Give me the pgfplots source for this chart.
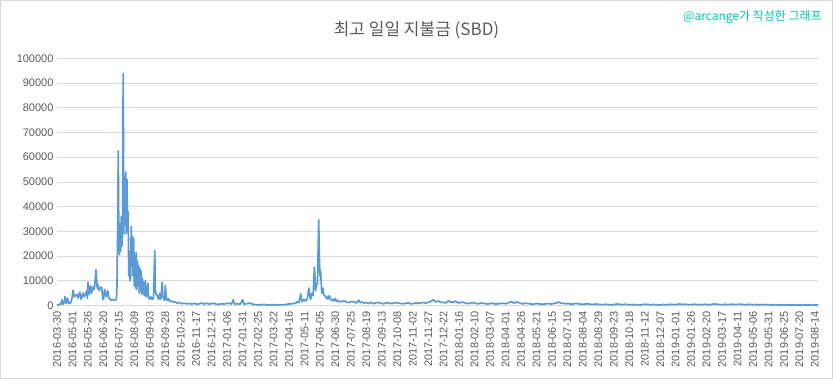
\documentclass[border=0pt]{standalone}
\usepackage{pgfplots}
\pgfplotsset{compat=1.18}
\usepackage{fontspec}
\setmainfont{Liberation Sans}
\newfontfamily\kr{Noto Sans CJK KR}
\definecolor{serie}{RGB}{91,155,213}
\definecolor{txt}{RGB}{89,89,89}
\definecolor{gridc}{RGB}{217,217,217}
\definecolor{wm}{RGB}{0,200,170}
\pgfplotstableread{
idx val
0 300
2 200
4 500
6 400
8 2300
10 500
12 1500
13 3600
15 800
17 2900
19 800
21 1200
22 1000
24 2500
25 4500
26 6100
28 3500
30 4000
32 4500
34 3000
36 4800
37 5400
39 2500
41 4000
42 5000
44 3500
46 4500
48 6000
49 3000
50 9400
52 4500
54 8000
56 5000
58 7500
60 6500
61 8000
63 14500
65 7000
66 8500
68 6000
70 7000
72 7500
74 3000
75 2300
77 6500
79 4000
80 3500
82 6000
84 3000
86 2500
88 2000
90 2500
92 2300
94 2000
96 2500
97 8000
98 30000
99 62500
100 25000
101 20500
102 33000
103 22000
104 36000
105 24000
106 35000
107 93800
108 29000
109 52000
110 33000
111 54000
112 29000
113 51000
114 32000
115 38000
116 12000
117 22000
118 10000
119 11000
120 32000
121 16000
122 28000
123 12000
124 27000
125 8000
126 20000
127 7000
128 21500
129 6500
130 18000
131 8000
132 16000
133 5000
134 15000
135 6000
136 14000
137 4500
138 11000
139 5000
140 9500
141 4000
143 10000
144 3500
146 4500
147 9000
148 3000
150 2500
151 3200
152 3500
154 2500
156 3000
158 22300
159 6000
160 4500
162 4000
163 3500
164 2500
166 5000
167 2500
168 3000
170 9400
171 4000
172 3000
174 2000
175 8100
177 2500
179 2000
180 2800
182 2000
184 1500
186 1800
188 1400
190 1500
194 1000
198 1200
202 800
206 900
210 700
214 800
218 600
222 900
226 500
230 700
234 1000
238 600
242 900
246 600
250 800
254 900
258 500
262 500
266 700
270 600
274 800
278 900
282 600
285 2300
287 600
292 700
296 500
300 2300
302 500
306 700
312 1000
316 500
319 400
323 300
327 300
331 400
335 400
339 200
343 200
347 300
351 300
355 200
359 200
363 300
367 300
371 500
375 600
379 700
383 800
386 1000
388 1500
391 1200
394 4700
396 1500
399 2500
402 1800
405 3000
407 7100
409 3500
410 2500
412 5000
414 4000
416 15500
418 6000
419 8000
421 9000
423 34700
424 20000
425 12000
426 14000
428 5000
430 7000
431 4500
433 4000
435 3000
436 3500
438 2500
440 4000
442 2800
444 2000
446 2500
448 1800
450 2800
452 1600
454 2000
456 1500
458 1800
460 1400
464 2000
468 1300
472 1200
476 1600
480 1500
484 1000
488 2200
490 1200
492 1400
496 1000
500 1200
504 800
507 1300
510 900
512 800
516 1100
520 1200
524 900
528 700
532 1100
536 1000
540 800
544 900
548 1200
552 1000
556 800
560 700
564 900
568 1100
572 700
576 800
580 1000
584 900
588 1100
592 1200
596 1000
600 1300
604 1600
608 2300
610 1800
613 1500
617 1800
619 1400
621 1200
624 1300
628 1000
631 1600
633 1900
636 1300
638 1500
641 1200
644 1800
647 1300
649 1000
653 1300
657 1300
661 900
665 800
669 1100
673 1100
677 800
681 700
685 1000
689 900
693 700
697 600
701 900
705 800
709 600
713 700
717 800
721 900
725 700
729 1100
732 1300
734 1600
737 1200
739 1000
742 1400
745 1300
749 900
753 700
757 900
762 800
766 600
770 500
774 800
778 700
782 600
786 500
790 700
794 800
798 600
801 700
805 900
808 1100
810 1400
812 1200
815 900
818 900
822 700
826 800
830 600
834 600
838 800
842 800
846 500
850 500
854 600
858 700
862 500
866 400
870 600
874 500
878 400
882 300
886 500
890 400
894 300
898 300
902 500
906 600
910 400
914 300
918 500
922 400
926 300
930 400
935 300
939 300
943 200
947 400
951 500
955 400
959 300
963 400
967 300
971 300
975 200
979 400
983 300
987 300
991 500
995 400
999 300
1003 500
1007 600
1011 400
1015 500
1019 400
1023 300
1027 400
1031 500
1035 350
1039 400
1043 300
1047 500
1051 400
1055 300
1059 500
1063 600
1067 500
1071 400
1075 300
1079 500
1084 350
1088 400
1092 500
1096 400
1100 450
1104 500
1108 400
1112 300
1116 400
1120 500
1124 300
1128 400
1132 300
1136 250
1140 300
1144 400
1148 300
1152 250
1156 200
1160 300
1164 250
1168 200
1172 200
1176 300
1180 200
1184 200
1188 200
1192 150
1196 200
1200 200
1205 150
1210 200
1215 200
1220 150
1225 200
1230 200
}\datatable
\begin{document}
\begin{tikzpicture}[x=1pt,y=1pt]
\useasboundingbox (0,0) rectangle (833,379);
\draw[gridc, line width=0.75pt] (0.5,0.5) rectangle (832.5,378.5);
\begin{axis}[
  at={(57pt,73.5pt)}, anchor=south west,
  scale only axis, width=761pt, height=247.2pt,
  xmin=0, xmax=1230, ymin=0, ymax=100000,
  ytick={0,10000,...,100000},
  xtick={0,25,...,1225},
  xticklabels={2016-03-30,2016-05-01,2016-05-26,2016-06-20,2016-07-15,2016-08-09,2016-09-03,2016-09-28,2016-10-23,2016-11-17,2016-12-12,2017-01-06,2017-01-31,2017-02-25,2017-03-22,2017-04-16,2017-05-11,2017-06-05,2017-06-30,2017-07-25,2017-08-19,2017-09-13,2017-10-08,2017-11-02,2017-11-27,2017-12-22,2018-01-16,2018-02-10,2018-03-07,2018-04-01,2018-04-26,2018-05-21,2018-06-15,2018-07-10,2018-08-04,2018-08-29,2018-09-23,2018-10-18,2018-11-12,2018-12-07,2019-01-01,2019-01-26,2019-02-20,2019-03-17,2019-04-11,2019-05-06,2019-05-31,2019-06-25,2019-07-20,2019-08-14},
  scaled y ticks=false,
  yticklabel={\pgfmathprintnumber[fixed,precision=0,1000 sep={},assume math mode=true]{\tick}},
  axis line style={draw=none},
  tick style={draw=none},
  ymajorgrids,
  grid style={gridc, line width=0.75pt},
  tick label style={font=\fontsize{11}{13}\selectfont, text=txt},
  x tick label style={rotate=90, anchor=east},
  xticklabel shift=2pt,
  clip=false,
]
\addplot[serie, line width=1.7pt, line join=round, no markers] table[x=idx,y=val]{\datatable};
\end{axis}
\node[font=\kr\fontsize{17}{20}\selectfont, text=txt] at (416.5,349) {최고 일일 지불금 (SBD)};
\node[anchor=east, font=\kr\fontsize{12}{14}\selectfont, text=wm, inner sep=0pt] at (822,362) {@arcange가 작성한 그래프};
\end{tikzpicture}
\end{document}
